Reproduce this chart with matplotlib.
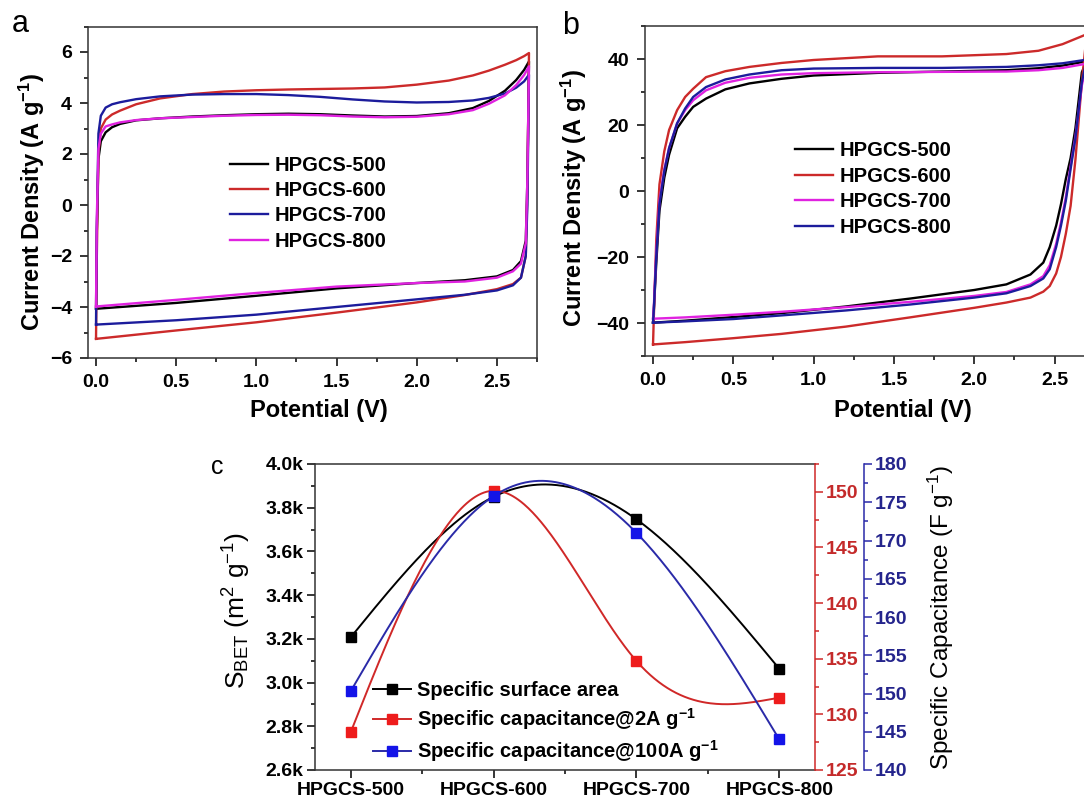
import numpy as np
import matplotlib
matplotlib.use("Agg")
import matplotlib.pyplot as plt
from matplotlib.ticker import MultipleLocator, FuncFormatter, FixedLocator

plt.rcParams['font.family'] = ['Liberation Sans', 'DejaVu Sans']
plt.rcParams['mathtext.fontset'] = 'custom'
plt.rcParams['mathtext.rm'] = 'Liberation Sans'
plt.rcParams['mathtext.bf'] = 'Liberation Sans:bold'
plt.rcParams['mathtext.it'] = 'Liberation Sans:italic'
plt.rcParams['mathtext.default'] = 'regular'

# ---------------- data: panel a (CV, low rate) ----------------
SAMPLES = ["HPGCS-500", "HPGCS-600", "HPGCS-700", "HPGCS-800"]

A_FWD_V = [0.0, 0.005, 0.015, 0.03, 0.06, 0.1, 0.15, 0.25, 0.4, 0.6, 0.8, 1.0,
           1.2, 1.4, 1.6, 1.8, 2.0, 2.2, 2.35, 2.45, 2.55, 2.62, 2.67, 2.7]
A_REV_V = [2.7, 2.69, 2.68, 2.65, 2.6, 2.5, 2.3, 2.0, 1.5, 1.0, 0.5, 0.0]

A_500_FWD = [-4.07, -1.0, 1.8, 2.5, 2.85, 3.05, 3.18, 3.32, 3.4, 3.47, 3.52, 3.56,
             3.58, 3.56, 3.51, 3.47, 3.49, 3.6, 3.8, 4.08, 4.48, 4.9, 5.3, 5.63]
A_500_REV = [5.63, 1.0, -1.4, -2.2, -2.55, -2.8, -2.95, -3.06, -3.27, -3.56, -3.84, -4.07]
A_600_FWD = [-5.25, -2.0, 2.0, 3.0, 3.35, 3.55, 3.7, 3.95, 4.18, 4.35, 4.45, 4.5,
             4.53, 4.55, 4.57, 4.61, 4.72, 4.88, 5.08, 5.27, 5.5, 5.68, 5.84, 5.96]
A_600_REV = [5.96, 0.5, -2.0, -2.85, -3.1, -3.3, -3.53, -3.82, -4.22, -4.6, -4.92, -5.25]
A_700_FWD = [-4.69, -1.0, 2.8, 3.5, 3.82, 3.95, 4.03, 4.15, 4.26, 4.33, 4.35, 4.35,
             4.31, 4.24, 4.14, 4.06, 4.02, 4.04, 4.1, 4.2, 4.37, 4.6, 4.85, 5.11]
A_700_REV = [5.11, 0.0, -2.0, -2.85, -3.15, -3.35, -3.52, -3.7, -4.0, -4.3, -4.52, -4.69]
A_800_FWD = [-3.98, -0.5, 2.2, 2.8, 3.08, 3.16, 3.24, 3.33, 3.4, 3.45, 3.5, 3.53,
             3.54, 3.52, 3.47, 3.44, 3.46, 3.56, 3.72, 3.97, 4.3, 4.7, 5.1, 5.44]
A_800_REV = [5.44, 1.0, -1.5, -2.3, -2.6, -2.85, -3.0, -3.06, -3.2, -3.45, -3.72, -3.98]

# ---------------- data: panel b (CV, high rate) ----------------
B_FWD_V = [0.0, 0.005, 0.02, 0.04, 0.07, 0.1, 0.15, 0.2, 0.25, 0.33, 0.45, 0.6,
           0.8, 1.0, 1.4, 1.8, 2.2, 2.4, 2.55, 2.7]
B_REV_V = [2.7, 2.67, 2.63, 2.6, 2.57, 2.54, 2.51, 2.47, 2.43, 2.35, 2.2, 2.0,
           1.6, 1.2, 0.8, 0.5, 0.2, 0.0]

B_500_FWD = [-39.9, -36, -22, -6, 4, 11, 19, 22.5, 25.5, 28, 30.8, 32.6,
             34, 35, 35.8, 36.2, 36.6, 37.2, 38, 39.3]
B_500_REV = [39.3, 36, 19, 10, 3.6, -4, -10.5, -17, -21.7, -25.3, -28.3, -30,
             -32.6, -35, -37, -38.2, -39.3, -39.9]
B_600_FWD = [-46.5, -38, -15, 2, 12, 18.5, 24.5, 28.5, 31, 34.5, 36.3, 37.6,
             38.8, 39.7, 40.8, 40.8, 41.5, 42.5, 44.5, 47.5]
B_600_REV = [47.5, 33, 9.5, -4.5, -13, -20, -25, -28.8, -30.5, -32.3, -33.8, -35.4,
             -38.3, -41.1, -43.3, -44.6, -45.8, -46.5]
B_700_FWD = [-38.7, -35, -19, -3, 6.5, 13, 20.5, 24.5, 27.5, 30.5, 32.8, 34.3,
             35.3, 35.7, 36.0, 36.1, 36.2, 36.6, 37.3, 38.6]
B_700_REV = [38.6, 32, 16.5, 7.5, -2, -9.5, -16, -22.5, -25.8, -28.3, -30.6, -31.8,
             -33.6, -35.2, -36.6, -37.5, -38.3, -38.7]
B_800_FWD = [-39.9, -36, -20, -4, 6, 13, 20.5, 25, 28.5, 31.5, 33.8, 35.3,
             36.6, 37.1, 37.3, 37.3, 37.6, 38.1, 38.7, 39.8]
B_800_REV = [39.8, 33, 16, 6.7, -3, -10.5, -17, -23.7, -26.5, -28.8, -31, -32.3,
             -34.4, -36.2, -37.7, -38.8, -39.5, -39.9]

# ---------------- data: panel c ----------------
C_SAMPLES = ["HPGCS-500", "HPGCS-600", "HPGCS-700", "HPGCS-800"]
S_BET = [3207, 3850, 3747, 3063]
CAP_2A = [128.4, 150.1, 134.8, 131.5]
CAP_100A = [150.3, 175.8, 171.0, 144.0]

BLACK = "#000000"
RED = "#cc2a2a"
BLUE = "#1c1c9c"
MAGENTA = "#e022e0"


def loop(fv, fi, rv, ri):
    v = list(fv) + list(rv[1:])
    i = list(fi) + list(ri[1:])
    return v, i


def spline(xs, ys, n=300):
    # natural cubic spline, only for drawing the smooth connecting lines
    xs = np.asarray(xs, float)
    ys = np.asarray(ys, float)
    k = len(xs)
    h = np.diff(xs)
    A = np.zeros((k, k))
    r = np.zeros(k)
    A[0, 0] = A[-1, -1] = 1
    for j in range(1, k - 1):
        A[j, j - 1] = h[j - 1]
        A[j, j] = 2 * (h[j - 1] + h[j])
        A[j, j + 1] = h[j]
        r[j] = 6 * ((ys[j + 1] - ys[j]) / h[j] - (ys[j] - ys[j - 1]) / h[j - 1])
    m = np.linalg.solve(A, r)
    xx = np.linspace(xs[0], xs[-1], n)
    idx = np.clip(np.searchsorted(xs, xx) - 1, 0, k - 2)
    x0, x1 = xs[idx], xs[idx + 1]
    hh = x1 - x0
    t0, t1 = x1 - xx, xx - x0
    yy = (m[idx] * t0 ** 3 / (6 * hh) + m[idx + 1] * t1 ** 3 / (6 * hh)
          + (ys[idx] / hh - m[idx] * hh / 6) * t0
          + (ys[idx + 1] / hh - m[idx + 1] * hh / 6) * t1)
    return xx, yy


def style_cv(ax):
    ax.tick_params(which='both', direction='out', labelsize=14, width=1.1)
    ax.tick_params(which='major', length=5.5, pad=6)
    ax.tick_params(which='minor', length=3)
    ax.tick_params(top=False, right=False, which='both')
    for lab in ax.get_xticklabels() + ax.get_yticklabels():
        lab.set_fontweight('bold')
    for s in ax.spines.values():
        s.set_linewidth(1.1)
        s.set_color('#333333')
    ax.xaxis.set_major_locator(MultipleLocator(0.5))
    ax.xaxis.set_minor_locator(MultipleLocator(0.25))
    ax.xaxis.set_major_formatter(FuncFormatter(lambda v, p: f"{v:.1f}"))
    ax.set_xlabel("Potential (V)", fontsize=17, fontweight='bold')
    ax.set_ylabel(r"Current Density (A g$^{\mathbf{-1}}$)", fontsize=17, fontweight='bold')


fig = plt.figure(figsize=(10.84, 8.0), dpi=100)
W, H = 1084.0, 800.0

# =========================
# panel a
# =========================
axa = fig.add_axes([88 / W, 1 - 358 / H, 449 / W, 331.5 / H])
a_series = [(A_500_FWD, A_500_REV, BLACK), (A_600_FWD, A_600_REV, RED),
            (A_700_FWD, A_700_REV, BLUE), (A_800_FWD, A_800_REV, MAGENTA)]
for name, (fi, ri, col) in zip(SAMPLES, a_series):
    v, i = loop(A_FWD_V, fi, A_REV_V, ri)
    axa.plot(v, i, color=col, lw=1.7, label=name, solid_joinstyle='round')
axa.set_xlim(-0.05, 2.75)
axa.set_ylim(-6, 7)
axa.yaxis.set_major_locator(FixedLocator([-6, -4, -2, 0, 2, 4, 6]))
axa.yaxis.set_minor_locator(MultipleLocator(1))
style_cv(axa)
axa.xaxis.set_label_coords(0.514, -0.125)
axa.yaxis.set_label_coords(-0.092, 0.47)
axa.legend(loc='upper left', bbox_to_anchor=(230 / W, 1 - 156 / H), bbox_transform=fig.transFigure,
           frameon=False, borderpad=0, borderaxespad=0, handlelength=1.9, handletextpad=0.3,
           labelspacing=0.31, prop={'size': 14.5, 'weight': 'bold'})

# =========================
# panel b
# =========================
axb = fig.add_axes([645 / W, 1 - 356 / H, 449.7 / W, 330 / H])
b_series = [(B_500_FWD, B_500_REV, BLACK), (B_600_FWD, B_600_REV, RED),
            (B_700_FWD, B_700_REV, MAGENTA), (B_800_FWD, B_800_REV, BLUE)]
for name, (fi, ri, col) in zip(SAMPLES, b_series):
    v, i = loop(B_FWD_V, fi, B_REV_V, ri)
    axb.plot(v, i, color=col, lw=1.7, label=name, solid_joinstyle='round')
axb.set_xlim(-0.05, 2.75)
axb.set_ylim(-50, 50)
axb.yaxis.set_major_locator(FixedLocator([-40, -20, 0, 20, 40]))
axb.yaxis.set_minor_locator(MultipleLocator(10))
style_cv(axb)
axb.xaxis.set_label_coords(0.574, -0.13)
axb.yaxis.set_label_coords(-0.125, 0.48)
axb.legend(loc='upper left', bbox_to_anchor=(795 / W, 1 - 141 / H), bbox_transform=fig.transFigure,
           frameon=False, borderpad=0, borderaxespad=0, handlelength=1.9, handletextpad=0.3,
           labelspacing=0.33, prop={'size': 14.5, 'weight': 'bold'})

# =========================
# panel c
# =========================
RED_C = "#d02828"
RED_M = "#ee1c1c"
BLUE_C = "#2a2aa8"
BLUE_M = "#1414e8"
RED_TXT = "#c42a2a"
BLUE_TXT = "#24248c"

axc = fig.add_axes([315 / W, 1 - 770 / H, 500 / W, 306 / H])
ax2 = axc.twinx()
ax3 = axc.twinx()
xs = np.arange(len(C_SAMPLES))

xx, yy = spline(xs, S_BET)
axc.plot(xx, yy, color=BLACK, lw=1.4)
axc.plot(xs, S_BET, ls='none', marker='s', ms=7, color=BLACK)
xx, yy = spline(xs, CAP_2A)
ax2.plot(xx, yy, color=RED_C, lw=1.4)
ax2.plot(xs, CAP_2A, ls='none', marker='s', ms=7, color=RED_M)
xx, yy = spline(xs, CAP_100A)
ax3.plot(xx, yy, color=BLUE_C, lw=1.4)
ax3.plot(xs, CAP_100A, ls='none', marker='s', ms=7, color=BLUE_M)

axc.set_xlim(-0.25, 3.25)
axc.set_ylim(2600, 4000)
ax2.set_ylim(125, 152.5)
ax3.set_ylim(140, 180)

axc.set_xticks(xs)
axc.set_xticklabels(C_SAMPLES)
axc.xaxis.set_minor_locator(FixedLocator([0.5, 1.5, 2.5]))
axc.yaxis.set_major_locator(MultipleLocator(200))
axc.yaxis.set_minor_locator(MultipleLocator(100))
axc.yaxis.set_major_formatter(FuncFormatter(lambda v, p: f"{v / 1000:.1f}k"))
axc.tick_params(which='both', direction='out', labelsize=14, width=1.1, top=False, right=False)
axc.tick_params(which='major', length=5.5, pad=3)
axc.tick_params(which='minor', length=3)
for lab in axc.get_xticklabels() + axc.get_yticklabels():
    lab.set_fontweight('bold')
axc.spines['right'].set_visible(False)
for s in ['left', 'bottom', 'top']:
    axc.spines[s].set_linewidth(1.1)
    axc.spines[s].set_color('#333333')

for a in (ax2, ax3):
    for s in ['left', 'bottom', 'top']:
        a.spines[s].set_visible(False)

ax2.spines['right'].set_color(RED_C)
ax2.spines['right'].set_linewidth(1.1)
ax2.yaxis.set_major_locator(MultipleLocator(5))
ax2.yaxis.set_minor_locator(MultipleLocator(2.5))
ax2.tick_params(which='both', direction='out', colors=RED_C, labelcolor=RED_TXT, labelsize=14, width=1.1)
ax2.tick_params(which='major', length=5.5, pad=2)
ax2.tick_params(which='minor', length=3)
for lab in ax2.get_yticklabels():
    lab.set_fontweight('bold')

ax3.spines['right'].set_position(('axes', 1.098))
ax3.spines['right'].set_color(BLUE_C)
ax3.spines['right'].set_linewidth(1.1)
ax3.yaxis.set_major_locator(MultipleLocator(5))
ax3.yaxis.set_minor_locator(MultipleLocator(2.5))
ax3.tick_params(which='both', direction='out', colors=BLUE_C, labelcolor=BLUE_TXT, labelsize=14, width=1.1)
ax3.tick_params(which='major', length=5.5, pad=2)
ax3.tick_params(which='minor', length=3)
for lab in ax3.get_yticklabels():
    lab.set_fontweight('bold')

axc.set_ylabel(r"S$_{BET}$ (m$^{2}$ g$^{-1}$)", fontsize=19)
axc.yaxis.set_label_coords(-0.124, 0.52)
ax3.set_ylabel(r"Specific Capacitance (F g$^{-1}$)", fontsize=17.5)
ax3.yaxis.set_label_coords(1.222, 0.5)

h1 = axc.plot([], [], color=BLACK, lw=1.4, marker='s', ms=7, markerfacecolor=BLACK, markeredgecolor=BLACK)[0]
h2 = axc.plot([], [], color=RED_C, lw=1.4, marker='s', ms=7, markerfacecolor=RED_M, markeredgecolor=RED_M)[0]
h3 = axc.plot([], [], color=BLUE_C, lw=1.4, marker='s', ms=7, markerfacecolor=BLUE_M, markeredgecolor=BLUE_M)[0]
leg = ax3.legend([h1, h2, h3],
                 ["Specific surface area", r"Specific capacitance@2A g$^{\mathbf{-1}}$",
                  r"Specific capacitance@100A g$^{\mathbf{-1}}$"],
                 loc='upper left', bbox_to_anchor=(373 / W, 1 - 681 / H), bbox_transform=fig.transFigure,
                 frameon=False, borderpad=0, borderaxespad=0, handlelength=1.9, handletextpad=0.3,
                 labelspacing=0.3, numpoints=1, prop={'size': 14.5, 'weight': 'bold'})

# panel letters
fig.text(20 / W, 1 - 24 / H, "a", fontsize=22, ha='center', va='center')
fig.text(571 / W, 1 - 26 / H, "b", fontsize=22, ha='center', va='center')
fig.text(217 / W, 1 - 467 / H, "c", fontsize=18, ha='center', va='center')

fig.savefig("out.png", dpi=100)
